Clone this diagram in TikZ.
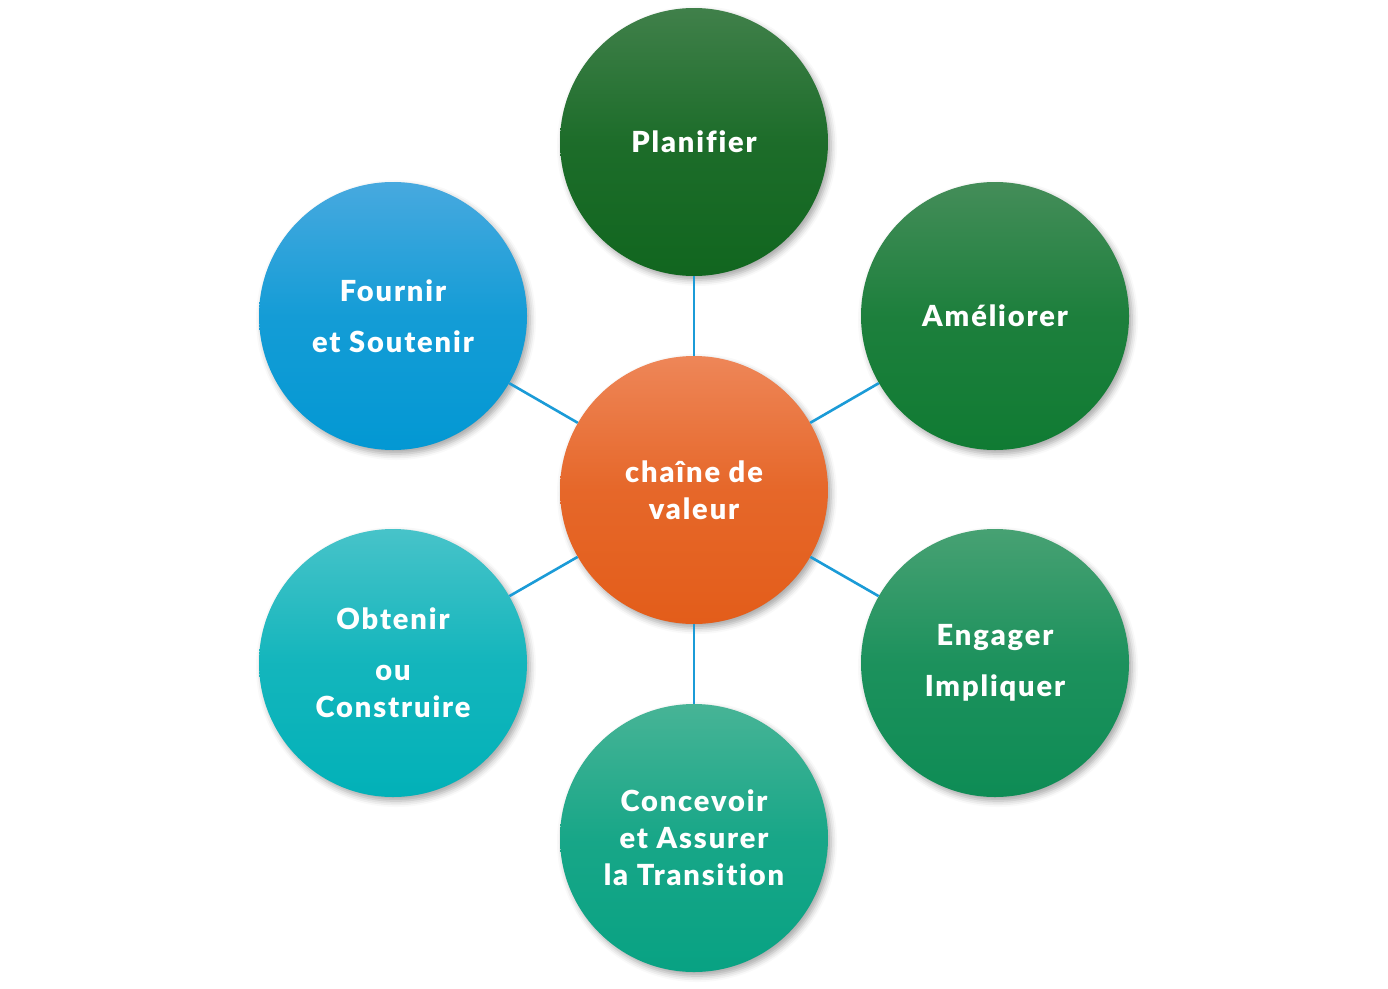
\documentclass[tikz,border=0pt]{standalone}
\usepackage{fontspec}
\setmainfont{Lato}[UprightFont=* Black, LetterSpace=6.5, Ligatures=NoCommon]
\usetikzlibrary{shadows.blur}
\definecolor{linkc}{HTML}{1B9BD7}
\definecolor{planT}{HTML}{40804A}\definecolor{planB}{HTML}{11661F}
\definecolor{amelT}{HTML}{448D59}\definecolor{amelB}{HTML}{107B33}
\definecolor{engT}{HTML}{47A173}\definecolor{engB}{HTML}{0E8C55}
\definecolor{concT}{HTML}{47B496}\definecolor{concB}{HTML}{08A283}
\definecolor{obtT}{HTML}{47C3C9}\definecolor{obtB}{HTML}{02B1B8}
\definecolor{fourT}{HTML}{47A9DF}\definecolor{fourB}{HTML}{0398D3}
\definecolor{ctrT}{HTML}{EE8658}\definecolor{ctrB}{HTML}{E35D1A}
\tikzset{
  bubble/.style 2 args={circle, minimum size=268pt, inner sep=0pt,
    top color=#1, bottom color=#2, middle color=#2!75!#1,
    blur shadow={shadow xshift=3pt, shadow yshift=-4pt, shadow blur radius=6pt, shadow opacity=35},
    text=white, align=center, font=\fontsize{29}{37}\selectfont},
  link/.style={draw=linkc, line width=2.6pt}
}
\begin{document}
\begin{tikzpicture}[x=1pt,y=-1pt]
\useasboundingbox (0,0) rectangle (1388,988);
\node[bubble={ctrT}{ctrB}] (ctr) at (694,490) {cha\^ine de\\valeur};
\node[bubble={planT}{planB}] (plan) at (694,142) {Planifier};
\node[bubble={amelT}{amelB}] (amel) at (995,316) {Améliorer};
\node[bubble={engT}{engB}] (eng) at (995,663) {Engager\\[14pt]Impliquer};
\node[bubble={concT}{concB}] (conc) at (694,838) {Concevoir\\et Assurer\\la Transition};
\node[bubble={obtT}{obtB}] (obt) at (393,663) {Obtenir\\[14pt]ou\\Construire};
\node[bubble={fourT}{fourB}] (four) at (393,316) {Fournir\\[14pt]et Soutenir};
\draw[link] (ctr) -- (plan);
\draw[link] (ctr) -- (amel);
\draw[link] (ctr) -- (eng);
\draw[link] (ctr) -- (conc);
\draw[link] (ctr) -- (obt);
\draw[link] (ctr) -- (four);
\end{tikzpicture}
\end{document}
